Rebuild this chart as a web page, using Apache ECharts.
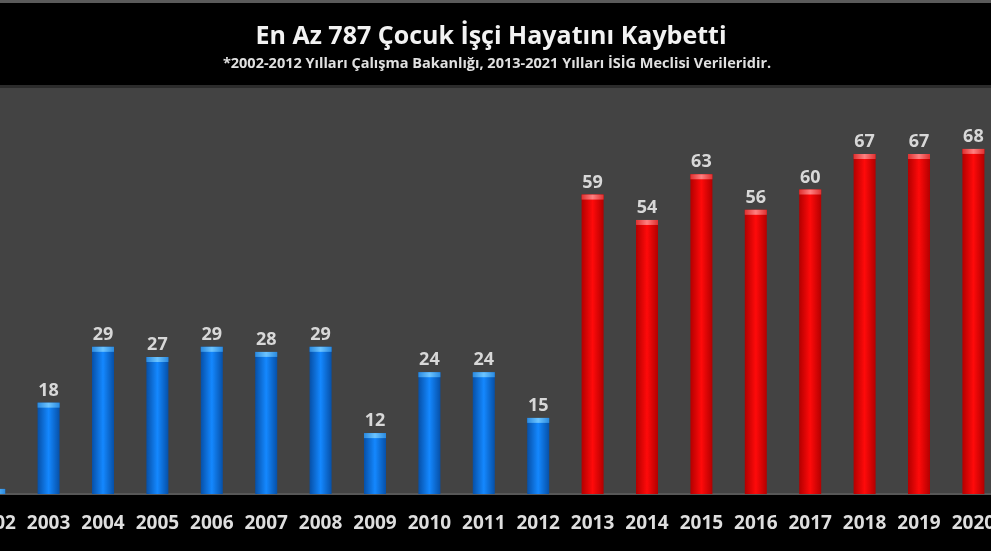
<!DOCTYPE html>
<html>
<head>
<meta charset="utf-8">
<script src="https://cdn.jsdelivr.net/npm/echarts@6/dist/echarts.min.js"></script>
<style>
	html, body { margin: 0; padding: 0; background: #000; overflow: hidden; }
	/* the picture is a crop: 2002 and 2021 fall partly outside, so the chart is wider than the window */
	#main { width: 1088px; height: 551px; margin-left: -33px; }
</style>
</head>
<body>
<div id="main"></div>
<script>
var years = [ '2002', '2003', '2004', '2005', '2006', '2007', '2008', '2009',
		'2010', '2011', '2012', '2013', '2014', '2015', '2016', '2017', '2018',
		'2019', '2020', '2021' ];

// 2002 and 2021 are cut off in the picture, estimated (total 787)
var deaths = [ 1, 18, 29, 27, 29, 28, 29, 12, 24, 24, 15, 59, 54, 63, 56, 60,
		67, 67, 68, 57 ];

// first year of the ISIG source (red bars)
var isigFrom = 2013;

var titleText = 'En Az 787 Çocuk İşçi Hayatını Kaybetti';
var subText = '*2002-2012 Yılları Çalışma Bakanlığı, 2013-2021 Yılları İSİG Meclisi Verileridir.';

var font = "'Open Sans', sans-serif";

function barGradient(edge, mid) {
	return new echarts.graphic.LinearGradient(0, 0, 1, 0, [ {
		offset : 0,
		color : edge
	}, {
		offset : 0.5,
		color : mid
	}, {
		offset : 1,
		color : edge
	} ]);
}

var blueBar = barGradient('#0650a8', '#1488ff');
var redBar = barGradient('#b30000', '#ff0a0a');
var blueCap = barGradient('#2a8ae0', '#6cc4ff');
var redCap = barGradient('#e03030', '#ff8080');

function isRed(idx) {
	return parseInt(years[idx], 10) >= isigFrom;
}

var myChart = echarts.init(document.getElementById('main'));

myChart.setOption({
	backgroundColor : '#000',
	animation : false,
	graphic : [ {
		type : 'rect',
		shape : { x : 0, y : 0, width : 1088, height : 3 },
		style : { fill : '#5a5a5a' },
		silent : true
	}, {
		type : 'rect',
		shape : { x : 0, y : 85, width : 1088, height : 3 },
		style : { fill : '#2c2c2c' },
		silent : true
	}, {
		type : 'text',
		x : 524,
		y : 37,
		silent : true,
		style : {
			text : titleText,
			fill : '#f2f2f2',
			font : 'bold 25px ' + font,
			align : 'center',
			verticalAlign : 'middle'
		}
	}, {
		type : 'text',
		x : 530,
		y : 64,
		silent : true,
		style : {
			text : subText,
			fill : '#e0e0e0',
			font : 'bold 14.5px ' + font,
			align : 'center',
			verticalAlign : 'middle'
		}
	} ],
	grid : {
		show : true,
		left : 0,
		right : 0,
		top : 88,
		bottom : 57,
		backgroundColor : '#434343',
		borderWidth : 0
	},
	xAxis : {
		type : 'category',
		data : years,
		axisLine : {
			lineStyle : { color : '#575757', width : 2 }
		},
		axisTick : {
			length : 8,
			interval : 0,
			lineStyle : { color : '#8a8a8a' }
		},
		axisLabel : {
			interval : 0,
			color : '#dedede',
			fontSize : 19,
			fontWeight : 'bold',
			fontFamily : font,
			margin : 20
		}
	},
	yAxis : {
		type : 'value',
		min : 0,
		max : 80,
		show : false
	},
	series : [ {
		name : 'Ölüm',
		type : 'bar',
		data : deaths,
		barWidth : 22,
		barGap : '-100%',
		itemStyle : {
			color : function(p) {
				return isRed(p.dataIndex) ? redBar : blueBar;
			}
		},
		label : {
			show : true,
			position : 'top',
			distance : 3,
			color : '#d8d8d8',
			fontSize : 18,
			fontWeight : 'bold',
			fontFamily : font
		}
	}, {
		name : 'cap',
		type : 'pictorialBar',
		data : deaths,
		barWidth : 22,
		barGap : '-100%',
		symbol : 'rect',
		symbolSize : [ 22, 5 ],
		symbolPosition : 'end',
		silent : true,
		itemStyle : {
			color : function(p) {
				return isRed(p.dataIndex) ? redCap : blueCap;
			}
		},
		z : 3
	} ]
});
</script>
</body>
</html>
